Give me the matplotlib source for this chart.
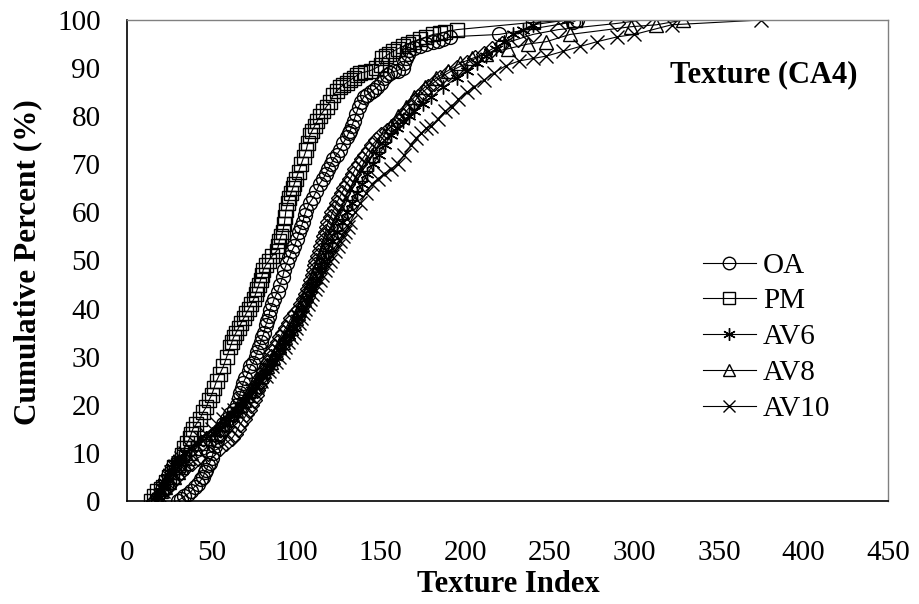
import matplotlib
matplotlib.use("Agg")
import matplotlib.pyplot as plt

plt.rcParams['font.family'] = ['Liberation Serif', 'DejaVu Serif']

# ---- data ----
oa_x = [30, 32, 34, 36, 38, 40, 42, 44, 45, 46, 47, 48, 49, 50, 51, 52, 53, 54, 55, 56, 57, 59,
        61, 63, 65, 66, 67, 68, 68.6, 70, 72, 73, 74.5, 76, 77, 78, 79, 80, 81, 82, 83, 84, 84.5,
        86, 87, 89, 90.5, 92, 93, 94.5, 96, 97.5, 99, 100.5, 102, 103, 104, 105, 106, 108, 110,
        112, 114, 116, 117.5, 119, 120.5, 122, 124, 126, 128, 130, 131, 132, 133, 134, 135.5,
        137, 138.5, 140, 142, 144, 146, 148, 150, 152, 154, 155.5, 158, 160, 163, 164, 165, 166,
        167, 170, 173, 177, 181, 184, 187, 191, 220, 264, 266]
oa_y = [0, 0.5, 1, 1.5, 2, 3, 3.5, 4.5, 5, 6, 6.5, 7.5, 8, 9, 10, 11.5, 12.7, 13.5, 14, 15, 16, 17,
        18, 19, 20, 21.5, 22.5, 23.5, 24.5, 25.5, 27, 28, 28.7, 30, 31, 32, 33, 34, 35, 36.5, 37.5,
        38.5, 39.7, 41, 42, 43.5, 45, 46.5, 48, 49.5, 50.7, 52, 53, 54.5, 56, 57, 58, 59.5, 60.5,
        62, 63, 64.5, 66, 67, 68, 69, 70, 71, 72, 73, 74.5, 75.7, 76.5, 77, 78, 79, 80.5, 82, 83,
        84, 84.5, 85, 85.5, 86, 87, 88, 88.5, 89, 89.3, 89.5, 90, 91, 92, 93, 93.8, 94.2, 94.5,
        95, 95.4, 95.7, 96, 96.5, 97, 99.6, 100]

pm_x = [14, 16, 18, 20, 21, 23, 25, 26.5, 28, 30, 31, 32.5, 34, 35.5, 37, 38, 39, 41, 43, 45, 47,
        48.5, 50, 51.5, 53, 55, 57, 59, 61, 62, 63, 64.5, 66, 67.5, 69, 70.5, 72, 73.5, 75, 76,
        77, 78, 79, 80, 80.5, 82, 84, 86, 88.6, 89.5, 90, 91, 92, 93, 93.5, 94, 95, 96, 97, 98,
        99, 100, 101.5, 103, 104.5, 106, 107, 108, 109.5, 111, 112.5, 114, 116, 118, 120, 122,
        124, 126, 128, 130, 132, 134, 136, 138, 141, 144, 147, 150, 151, 153, 155, 157.5, 160,
        163, 166, 169, 173, 177, 181, 185, 188, 195, 240, 265]
pm_y = [0, 1, 2, 2.5, 3, 4, 5, 6, 7, 7.5, 8, 9.5, 11, 12, 13, 14, 15, 16, 17, 18.5, 19.6,
        21, 22, 23.5, 25, 26.5, 28, 30, 32, 33, 34, 35, 36, 37, 38, 39, 40, 41, 42, 43,
        44, 45, 46, 47, 48, 49, 50, 51, 52, 53, 54, 55, 56, 57.5, 59, 60.5, 62, 63, 64, 65,
        66, 67, 68.5, 70, 71.5, 73, 74.5, 76, 77, 78, 79, 80, 81, 82, 83, 84.4,
        85.2, 86, 86.5, 87, 87.5, 88, 88.5, 89, 89.2, 89.5, 90, 90.6, 92, 92.5, 93, 93.5, 94,
        94.5, 95, 95.5, 96, 96.5, 97, 97.2, 97.5, 98, 99.5, 100]

av6_x = [17, 18.5, 20, 21, 22, 23.5, 25, 26.5, 28, 31, 34, 38, 42, 47, 52, 55, 58, 60.5, 63, 65.5,
         68, 70, 72, 74, 76, 78, 80, 82, 84, 86, 88, 90.5, 93, 95.5, 98, 100.5, 103, 106, 109,
         111.5, 114, 116.5, 119, 121.5, 124, 127, 130, 133, 136, 139, 142, 145.5, 149, 152.5,
         156, 159.5, 163, 166.5, 170, 175, 180, 187, 195, 201, 207, 212, 218, 223, 228, 234,
         240, 260]
av6_y = [0, 1, 2, 3, 4, 5, 6, 7, 8, 9, 10, 11, 12, 13, 14, 15, 16, 17, 18, 19,
         20, 21, 22, 23, 24, 25, 26, 27, 28, 29, 30, 31.5, 33, 34.5, 36, 38, 40, 42, 44,
         46, 48, 50, 52, 54, 56, 58, 60, 62, 64, 66, 68, 70, 72, 74,
         76, 77.5, 79, 80, 81, 82.5, 84, 86, 88, 89.5, 91, 92.5, 94, 95.5, 97, 98,
         99, 100]

av8_x = [15, 17.5, 20, 22.5, 25, 27.5, 30, 32, 34, 36, 38, 41, 44, 47, 50, 53, 56, 59, 62, 64.5,
         67, 69, 71, 73, 75, 77, 79, 81, 83, 85, 86.5, 88, 90, 92, 93.5, 95, 97, 98.5, 100, 101,
         102, 103.5, 104.5, 106, 107, 108.5, 110, 112, 113, 114, 115, 116, 117.5, 119, 121, 123,
         125, 127, 129.5, 132, 135, 138, 141.5, 145, 148.5, 152, 156, 160, 165, 170, 176, 183,
         190, 197, 204, 212, 225, 237, 248, 262, 298, 313, 329]
av8_y = [0, 1, 2, 3, 4, 5, 6, 7, 8, 9, 10, 11, 12, 13, 14, 15, 16, 17, 18, 19,
         20, 21, 22, 23, 24, 25, 26, 27, 28, 29, 30, 31, 32, 33, 34, 35, 36, 37, 38, 39,
         40, 41, 42, 43, 44, 45, 46.5, 48, 49, 50, 51, 52, 53.5, 55, 56, 57.5,
         59, 60, 62, 64, 66, 68, 70, 72, 74, 76, 78, 80, 82, 84, 86, 88,
         89.5, 91, 92, 93, 94, 95, 95.5, 97, 98.6, 99, 100]

av10_x = [18, 19.5, 21, 22, 23.5, 25, 26, 28, 30, 32, 34.5, 37, 40, 43, 46.5, 50, 53, 56.5, 60, 63,
          65.5, 68, 71, 74, 77, 79.5, 82, 84, 86, 88, 90, 92, 93.5, 95, 97, 98.5, 100, 101.5, 103,
          104, 105.5, 107, 108, 109.5, 111, 112.5, 114, 115.5, 117, 118.5, 120, 121.5, 123, 124.5,
          126, 127.5, 129, 130.5, 132, 135, 138, 141.5, 145, 148.5, 152, 156, 160, 164, 168, 171,
          174, 177, 180, 184, 188, 192, 196, 201, 205, 211, 217, 224, 232, 240, 248, 258, 268,
          278, 290, 300, 322, 375]
av10_y = [0, 1, 2, 3, 4, 5, 6, 7, 8, 9, 10, 11, 12, 13, 14, 15, 16, 17, 18, 19,
          20, 21, 22, 23, 24, 25, 26, 27, 28, 29, 30, 31, 32, 33, 34, 35, 36, 37, 38,
          39, 40, 41, 42, 43, 44, 45, 46, 47, 48, 49, 50, 51, 52, 53,
          54, 55, 56, 57, 58, 60, 62, 64, 66, 67, 68, 69, 70, 72, 74, 75.5,
          76.5, 77.5, 78, 79.5, 81, 82, 83.5, 85, 86, 87.5, 89, 90.5, 91.5, 92, 92.5, 93.5, 94.5,
          95.5, 96.5, 97, 99, 100]

dia_x = [16, 18.5, 21, 24, 26.5, 29, 32, 35, 38.5, 42, 48, 55, 58.5, 62, 64, 65.5, 67, 69, 70.5,
         72, 73.5, 75, 76, 77, 78, 79, 80, 81, 82.5, 83.5, 85, 86, 87.5, 89, 90.5, 92, 94, 95.5,
         97, 99.5, 102, 103, 104.5, 106, 107, 108, 109, 110, 110.5, 111, 112, 113, 114, 115, 116,
         116.5, 117.5, 118, 119, 120.5, 121.5, 123, 124, 125.5, 127, 128.5, 130, 132, 133.5, 135,
         137, 139, 141, 143, 145, 147.5, 150, 153.5, 157, 160, 163, 165, 167.5, 170, 172, 175,
         178, 181.5, 185, 190, 195, 201, 206, 211, 216, 222, 231, 240, 255, 290, 305]
dia_y = [0, 1, 2, 3, 4, 5, 6, 7, 8, 9, 10, 11, 12, 13, 14, 15, 16, 17, 18,
         19, 20, 21, 22, 23, 24, 25, 26, 27, 28, 29, 30, 31, 32, 33, 34, 35, 36, 37,
         38, 39, 40, 41, 42, 43, 44, 45, 46, 47, 48, 49, 50, 51, 52, 53, 54,
         55, 56, 57, 58, 59, 60, 61, 62, 63, 64, 65, 66, 67, 68, 69,
         70, 71, 72, 73, 74, 75, 76, 77, 78, 79, 80, 81, 82, 83, 84, 85,
         86, 87, 88, 89, 90, 91, 92, 93, 94, 95, 96, 97, 98, 99.3, 100]

labels = ['OA', 'PM', 'AV6', 'AV8', 'AV10']
x_ticks = [0, 50, 100, 150, 200, 250, 300, 350, 400, 450]
y_ticks = [0, 10, 20, 30, 40, 50, 60, 70, 80, 90, 100]

fig = plt.figure(figsize=(9.19, 6.04), dpi=100)
ax = fig.add_axes([127/919, 1-501/604, (888-127)/919, (501-20)/604])

ms = 10
kw = dict(color='black', lw=0.8, mfc='none', mec='black', mew=1.0, ms=ms)
ax.plot(dia_x, dia_y, marker='D', label='_nolegend_', **{**kw, 'ms': 8.5})
ax.plot(oa_x, oa_y, marker='o', label=labels[0], **kw)
ax.plot(pm_x, pm_y, marker='s', label=labels[1], **kw)
ax.plot(av6_x, av6_y, marker=(6, 2, 0), label=labels[2], **kw)
ax.plot(av8_x, av8_y, marker='^', label=labels[3], **kw)
ax.plot(av10_x, av10_y, marker='x', label=labels[4], **kw)

ax.set_xlim(0, 450)
ax.set_ylim(0, 100)
ax.set_xticks(x_ticks)
ax.set_yticks(y_ticks)
ax.tick_params(axis='both', length=0, labelsize=21)
ax.tick_params(axis='y', pad=19)
ax.tick_params(axis='x', pad=28)
for s in ['left', 'bottom']:
    ax.spines[s].set_color('black')
    ax.spines[s].set_linewidth(1.2)
for s in ['top', 'right']:
    ax.spines[s].set_color('#808080')
    ax.spines[s].set_linewidth(1.0)

fig.text(508/919, 1-585/604, 'Texture Index', ha='center', va='center',
         fontsize=22, fontweight='bold')
fig.text(28/919, 1-262/604, 'Cumulative Percent (%)', ha='center', va='center',
         rotation=90, fontsize=22.5, fontweight='bold')
fig.text(857/919, 1-75/604, 'Texture (CA4)', ha='right', va='center',
         fontsize=22, fontweight='bold')

handles, labs = ax.get_legend_handles_labels()
leg = fig.legend(handles, labs, loc='center left',
                 bbox_to_anchor=(703/919, 1-337/604), frameon=False,
                 fontsize=21, handlelength=1.8, handletextpad=0.25,
                 labelspacing=0.32, borderpad=0, borderaxespad=0, markerscale=0.9)

fig.savefig('out.png', dpi=100)
